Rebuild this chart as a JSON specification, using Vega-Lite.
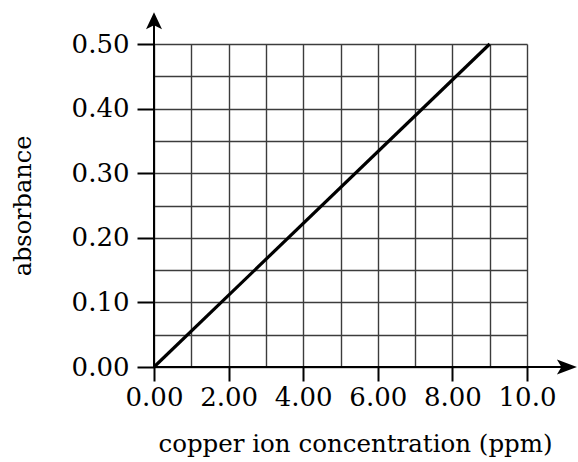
{
  "$schema": "https://vega.github.io/schema/vega-lite/v6.json",
  "width": 373,
  "height": 323,
  "autosize": "none",
  "padding": {"left": 154, "top": 44, "right": 51, "bottom": 95},
  "background": "white",
  "config": {"view": {"stroke": null}, "font": "DejaVu Serif"},
  "datasets": {
    "calibration": [
      {"concentration": 0, "absorbance": 0},
      {"concentration": 9, "absorbance": 0.5}
    ],
    "axislines": [
      {"axis": "x", "concentration": 0, "concentration_end": 11.2, "absorbance": 0, "absorbance_end": 0},
      {"axis": "y", "concentration": 0, "concentration_end": 0, "absorbance": 0, "absorbance_end": 0.54}
    ],
    "arrows": [
      {"dir": "right", "concentration": 11.07, "absorbance": 0},
      {"dir": "up", "concentration": 0, "absorbance": 0.536}
    ]
  },
  "encoding": {
    "x": {
      "field": "concentration",
      "type": "quantitative",
      "scale": {"domain": [0, 10], "nice": false, "zero": false},
      "axis": {
        "values": [0, 1, 2, 3, 4, 5, 6, 7, 8, 9, 10],
        "title": "copper ion concentration (ppm)",
        "domain": false,
        "grid": true,
        "gridColor": "#3c3c3c",
        "gridWidth": 1.4,
        "gridOpacity": 1,
        "ticks": true,
        "tickSize": 14,
        "tickWidth": 2,
        "tickColor": {"condition": {"test": "datum.value % 2 === 0", "value": "black"}, "value": "transparent"},
        "labelExpr": "datum.value % 2 === 0 ? (datum.value === 10 ? '10.0' : format(datum.value, '.2f')) : ''",
        "labelFont": "DejaVu Serif",
        "labelFontSize": 26,
        "labelColor": "black",
        "labelPadding": 3,
        "labelOverlap": false,
        "labelBound": false,
        "labelFlush": false,
        "titleFont": "DejaVu Serif",
        "titleFontSize": 24.5,
        "titleFontWeight": "normal",
        "titleColor": "black",
        "titleX": 201,
        "titleY": 84,
        "titleBaseline": "alphabetic",
        "titleAlign": "center"
      }
    },
    "y": {
      "field": "absorbance",
      "type": "quantitative",
      "scale": {"domain": [0, 0.5], "nice": false, "zero": false},
      "axis": {
        "values": [0, 0.05, 0.1, 0.15, 0.2, 0.25, 0.3, 0.35, 0.4, 0.45, 0.5],
        "title": "absorbance",
        "domain": false,
        "grid": true,
        "gridColor": "#3c3c3c",
        "gridWidth": 1.4,
        "gridOpacity": 1,
        "ticks": true,
        "tickSize": 17,
        "tickWidth": 2,
        "tickColor": {"condition": {"test": "round(datum.value * 20) % 2 === 0", "value": "black"}, "value": "transparent"},
        "labelExpr": "round(datum.value * 20) % 2 === 0 ? format(datum.value, '.2f') : ''",
        "labelFont": "DejaVu Serif",
        "labelFontSize": 26,
        "labelColor": "black",
        "labelPadding": 8,
        "labelOverlap": false,
        "labelBound": false,
        "labelFlush": false,
        "titleFont": "DejaVu Serif",
        "titleFontSize": 24,
        "titleFontWeight": "normal",
        "titleColor": "black",
        "titleAngle": -90,
        "titleX": -131,
        "titleY": 161.5,
        "titleBaseline": "middle",
        "titleAlign": "center"
      }
    }
  },
  "layer": [
    {
      "data": {"name": "calibration"},
      "mark": {"type": "line", "color": "black", "strokeWidth": 3.2}
    },
    {
      "data": {"name": "axislines"},
      "mark": {"type": "rule", "color": "black", "strokeWidth": 2},
      "encoding": {
        "x2": {"field": "concentration_end"},
        "y2": {"field": "absorbance_end"}
      }
    },
    {
      "data": {"name": "arrows"},
      "mark": {"type": "point", "filled": true, "color": "black", "opacity": 1, "strokeWidth": 0, "size": 400},
      "encoding": {
        "shape": {
          "field": "dir",
          "type": "nominal",
          "scale": {
            "domain": ["right", "up"],
            "range": ["M1,0L-1,-0.75L-0.55,0L-1,0.75Z", "M0,-0.85L0.8,0.85L0,0.45L-0.8,0.85Z"]
          },
          "legend": null
        }
      }
    }
  ]
}
